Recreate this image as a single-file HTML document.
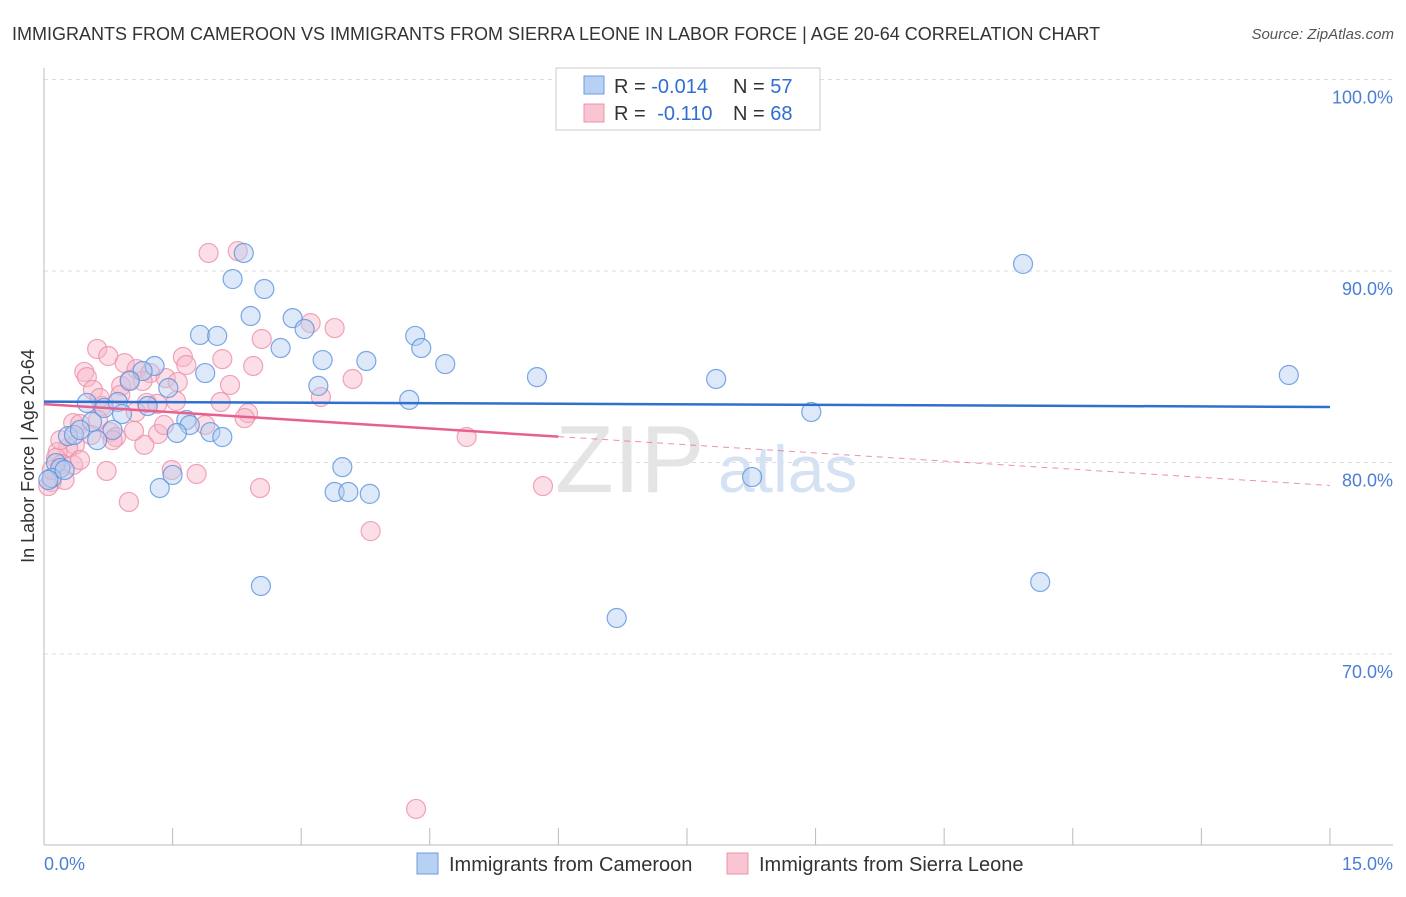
<!DOCTYPE html>
<html><head><meta charset="utf-8"><style>
body{margin:0;background:#fff;font-family:"Liberation Sans",sans-serif}
svg text{font-family:"Liberation Sans",sans-serif}
</style></head><body>
<svg width="1406" height="892">
<text x="12" y="40" font-size="18" fill="#333">IMMIGRANTS FROM CAMEROON VS IMMIGRANTS FROM SIERRA LEONE IN LABOR FORCE | AGE 20-64 CORRELATION CHART</text>
<text x="1394" y="39" font-size="15" fill="#555" font-style="italic" text-anchor="end">Source: ZipAtlas.com</text>
<g id="grid"></g>
<g id="axes"></g>
<text x="555" y="492" font-size="96" fill="#e4e4e4" font-family="Liberation Serif">ZIP</text>
<text x="718" y="492" font-size="66" fill="#d5e2f3">atlas</text>
<g id="marks"></g>
<g id="trends"></g>
<text transform="translate(34,456) rotate(-90)" font-size="18" fill="#333" text-anchor="middle">In Labor Force | Age 20-64</text>
<text x="44" y="870" font-size="18" fill="#4a7fd4">0.0%</text>
<text x="1393" y="870" font-size="18" fill="#4a7fd4" text-anchor="end">15.0%</text>
<g>
<rect x="556" y="68" width="264" height="62" fill="#fff" stroke="#ccc"/>
<rect x="584" y="76" width="20" height="18" fill="#b8d1f3" stroke="#6a9be0"/>
<rect x="584" y="104" width="20" height="18" fill="#f9c5d3" stroke="#ec93ad"/>
<text x="614" y="93" font-size="20" fill="#333">R = <tspan fill="#2f6fd0">-0.014</tspan></text>
<text x="733" y="93" font-size="20" fill="#333">N = <tspan fill="#2f6fd0">57</tspan></text>
<text x="614" y="120" font-size="20" fill="#333">R = <tspan fill="#2f6fd0" dx="6">-0.110</tspan></text>
<text x="733" y="120" font-size="20" fill="#333">N = <tspan fill="#2f6fd0">68</tspan></text>
</g>
<g>
<rect x="417" y="853" width="21" height="21" fill="#b8d1f3" stroke="#6a9be0"/>
<text x="449" y="871" font-size="20" fill="#333">Immigrants from Cameroon</text>
<rect x="727" y="853" width="21" height="21" fill="#f9c5d3" stroke="#ec93ad"/>
<text x="759" y="871" font-size="20" fill="#333">Immigrants from Sierra Leone</text>
</g>
</svg>
<script>
const yTicks=[100,90,80,70];
const yTickLabels=["100.0%","90.0%","80.0%","70.0%"];
const xTicks=[0,1.5,3,4.5,6,7.5,9,10.5,12,13.5,15];
const blueX=[2.33,2.20,2.57,2.41,2.90,3.04,1.82,2.02,2.76,4.33,4.40,3.25,3.76,4.68,1.29,1.88,1.15,1.00,1.45,3.20,5.75,7.84,11.42,14.52,4.26,0.50,0.70,0.86,1.21,0.91,8.95,1.66,1.70,0.56,0.80,1.55,1.94,2.08,0.28,0.35,0.62,0.14,0.19,0.09,3.48,1.35,1.50,3.39,3.55,3.80,8.26,2.53,6.68,11.62,0.42,0.05,0.24];
const blueY=[90.94,89.58,89.06,87.65,87.54,86.97,86.66,86.61,85.98,86.61,85.98,85.35,85.30,85.14,85.04,84.67,84.78,84.26,83.89,84.00,84.46,84.36,90.37,84.57,83.27,83.11,82.85,83.16,82.95,82.53,82.64,82.22,81.96,82.12,81.70,81.54,81.59,81.33,81.38,81.44,81.17,79.97,79.71,79.19,79.76,78.67,79.35,78.46,78.46,78.36,79.24,73.55,71.88,73.76,81.70,79.09,79.61];
const pinkX=[1.92,2.26,3.11,3.39,2.54,0.62,0.75,1.62,2.08,0.94,2.44,0.47,0.50,1.08,1.24,1.42,1.56,1.15,0.90,1.00,3.60,3.23,0.57,1.54,2.06,1.20,1.32,2.38,2.34,1.07,0.68,0.34,0.42,0.77,0.84,1.33,1.17,0.36,0.28,0.16,0.14,0.21,0.34,0.73,0.99,1.49,1.78,2.52,3.81,4.93,5.82,4.34,0.09,0.05,0.24,0.63,1.66,1.05,0.55,0.42,1.40,1.88,2.17,0.89,0.19,0.09,0.65,0.80];
const pinkY=[90.94,91.04,87.28,87.02,86.45,85.93,85.56,85.51,85.40,85.19,85.04,84.73,84.46,84.88,84.67,84.41,84.20,84.26,84.00,84.31,84.36,83.42,83.79,83.21,83.16,83.11,83.06,82.58,82.32,82.64,82.95,82.06,82.01,81.59,81.33,81.49,80.92,80.92,80.76,80.55,80.24,79.92,79.87,79.56,77.94,79.61,79.40,78.67,76.42,81.33,78.77,61.91,78.98,78.77,79.09,82.22,85.09,81.65,81.44,80.13,81.96,81.96,84.05,83.53,81.17,79.61,83.37,81.17];
const blueTrend=[83.18,82.90];
const pinkTrend=[83.05,78.8];
const pinkSolidEnd=6;
const NS="http://www.w3.org/2000/svg";
const sx=v=>44+v*85.73, sy=v=>79.5+(100-v)*19.15;
function mk(t,a,p){const e=document.createElementNS(NS,t);for(const k in a)e.setAttribute(k,a[k]);p.appendChild(e);return e;}
const grid=document.getElementById('grid'),axes=document.getElementById('axes'),marks=document.getElementById('marks'),trends=document.getElementById('trends');
yTicks.forEach((t,i)=>{
 const l=mk('line',{x1:44,x2:1393,y1:sy(t),y2:sy(t),stroke:'#ddd','stroke-dasharray':'4,4'},grid);
 
 
 const tx=mk('text',{x:1393,y:sy(t)+24,'font-size':18,fill:'#4a7fd4','text-anchor':'end'},grid);
 tx.textContent=yTickLabels[i];
 
 
});
mk('line',{x1:44,x2:44,y1:68,y2:845,stroke:'#bbb'},axes);
mk('line',{x1:44,x2:1393,y1:845,y2:845,stroke:'#bbb'},axes);
xTicks.forEach(t=>{const l=mk('line',{x1:sx(t),x2:sx(t),y1:828,y2:845,stroke:'#bbb'},axes);
 
 });
function pts(X,Y,fill,stroke,name){X.forEach((x,i)=>{const c=mk('circle',{cx:sx(x),cy:sy(Y[i]),r:9.5,fill:fill,'fill-opacity':0.45,stroke:stroke,'stroke-opacity':0.8,'stroke-width':1.2},marks);
 
 });}
pts(pinkX,pinkY,'#f7b6c8','#ec8faa','point-sierra-leone');
pts(blueX,blueY,'#b3cdf0','#5b92de','point-cameroon');
const bl=mk('line',{x1:sx(0),x2:sx(15),y1:sy(blueTrend[0]),y2:sy(blueTrend[1]),stroke:'#2f6fd0','stroke-width':2.5},trends);


const py=x=>pinkTrend[0]+(pinkTrend[1]-pinkTrend[0])*x/15;
const pl=mk('line',{x1:sx(0),x2:sx(pinkSolidEnd),y1:sy(py(0)),y2:sy(py(pinkSolidEnd)),stroke:'#e8608d','stroke-width':2.5},trends);


const pd=mk('line',{x1:sx(pinkSolidEnd),x2:sx(15),y1:sy(py(pinkSolidEnd)),y2:sy(py(15)),stroke:'#e8608d','stroke-width':1,'stroke-dasharray':'6,5','stroke-opacity':0.7},trends);


</script>
</body></html>
